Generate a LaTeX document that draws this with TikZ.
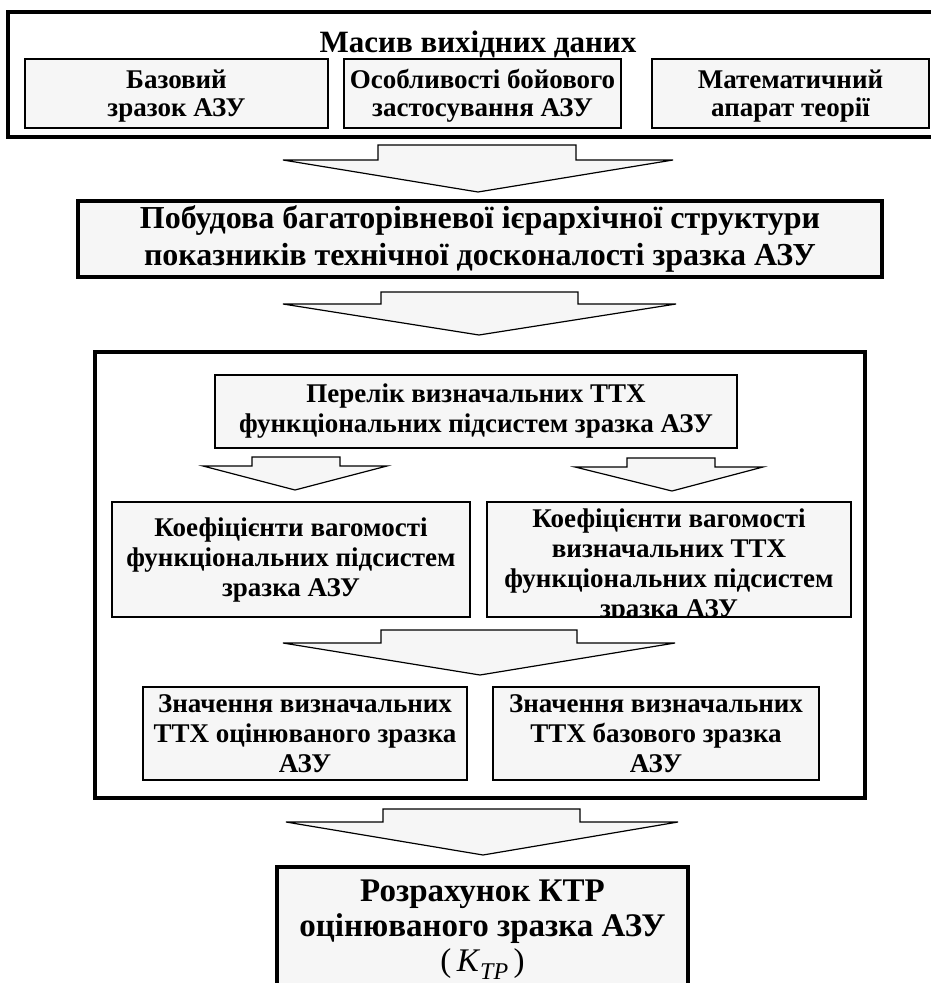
\documentclass[tikz,border=0pt]{standalone}
\usepackage{fontspec}
\setmainfont{Liberation Serif}
\begin{document}
\begin{tikzpicture}[x=1pt, y=-1pt, font=\bfseries]
  \definecolor{boxgray}{RGB}{246,246,246}
  \tikzset{
    box/.style={draw=black, line width=1.6pt, fill=boxgray, align=center, inner sep=0pt},
    bigbox/.style={draw=black, line width=4pt, align=center, inner sep=0pt},
    blockarrow/.style={draw=black, line width=1.2pt, fill=boxgray, line join=miter},
    hugetext/.style={font=\fontsize{32}{37}\selectfont\bfseries},
    midtext/.style={font=\fontsize{27}{30}\selectfont\bfseries},
    smalltext/.style={font=\fontsize{27}{28}\selectfont\bfseries}
  }
  \clip (0,0) rectangle (931,983);

  % Input data
  \node[bigbox, fill=white, minimum width=927pt, minimum height=125pt] (source) at (471.5,74.5) {};
  \node[font=\fontsize{31}{36}\selectfont\bfseries] (sourcetitle) at (478,44) {Масив вихідних даних};
  \node[box, minimum width=303pt, minimum height=69pt] (base) at (176.5,93.5) {};
  \node[box, minimum width=277pt, minimum height=69pt] (combat) at (482.5,93.5) {};
  \node[box, minimum width=277pt, minimum height=69pt] (theory) at (790.5,93.5) {};
  \node[smalltext, align=center] (basetext) at (176.5,96) {Базовий\\зразок АЗУ};
  \node[smalltext, align=center] (combattext) at (482.5,96) {Особливості бойового\\застосування АЗУ};
  \node[smalltext, align=center] (theorytext) at (790.5,96) {Математичний\\апарат теорії};

  \coordinate (tip1) at (478,192);
  \draw[blockarrow] (tip1) -- ++(-195,-32) -- ++(95,0) -- ++(0,-15) -- ++(198,0) -- ++(0,15) -- ++(97,0) -- cycle;

  % Hierarchy
  \node[bigbox, hugetext, fill=boxgray, minimum width=804pt, minimum height=76pt] (build) at (480,239)
    {Побудова багаторівневої ієрархічної структури\\показників технічної досконалості зразка АЗУ};

  \coordinate (tip2) at (479,335);
  \draw[blockarrow] (tip2) -- ++(-196,-31) -- ++(98,0) -- ++(0,-12) -- ++(197,0) -- ++(0,12) -- ++(98,0) -- cycle;

  % Weights and values
  \node[bigbox, fill=white, minimum width=770pt, minimum height=446pt] (calc) at (480,575) {};
  \node[box, midtext, minimum width=522pt, minimum height=73pt] (list) at (476,411.5)
    {Перелік визначальних ТТХ\\функціональних підсистем зразка АЗУ};

  \coordinate (tip3) at (295,490);
  \draw[blockarrow] (tip3) -- ++(-92,-24) -- ++(49,0) -- ++(0,-9) -- ++(88,0) -- ++(0,9) -- ++(47,0) -- cycle;
  \coordinate (tip4) at (672,491);
  \draw[blockarrow] (tip4) -- ++(-97,-24) -- ++(52,0) -- ++(0,-9) -- ++(88,0) -- ++(0,9) -- ++(48,0) -- cycle;

  \node[box, midtext, minimum width=358pt, minimum height=115pt] (wsub) at (291,559.5)
    {Коефіцієнти вагомості\\функціональних підсистем\\зразка АЗУ};
  \node[box, minimum width=364pt, minimum height=115pt] (wttx) at (669,559.5) {};
  \begin{scope}
    \clip (487,502) rectangle (851,617);
    \node[midtext, align=center] (wttxtext) at (669,566)
      {Коефіцієнти вагомості\\визначальних ТТХ\\функціональних підсистем\\зразка АЗУ};
  \end{scope}

  \coordinate (tip5) at (480,675);
  \draw[blockarrow] (tip5) -- ++(-197,-32) -- ++(98,0) -- ++(0,-13) -- ++(196,0) -- ++(0,13) -- ++(98,0) -- cycle;

  \node[box, midtext, minimum width=324pt, minimum height=93pt] (valeval) at (305,733.5)
    {Значення визначальних\\ТТХ оцінюваного зразка\\АЗУ};
  \node[box, midtext, minimum width=326pt, minimum height=93pt] (valbase) at (656,733.5)
    {Значення визначальних\\ТТХ базового зразка\\АЗУ};

  \coordinate (tip6) at (483,855);
  \draw[blockarrow] (tip6) -- ++(-197,-33) -- ++(97,0) -- ++(0,-13) -- ++(197,0) -- ++(0,13) -- ++(98,0) -- cycle;

  % Result
  \node[bigbox, fill=boxgray, font=\fontsize{33}{35}\selectfont\bfseries, minimum width=411pt, minimum height=126pt] (result) at (482.5,930)
    {Розрахунок КТР\\оцінюваного зразка АЗУ\\{\normalfont(\,\textit{K}\raisebox{-0.25em}{\fontsize{24}{24}\selectfont\textit{TP}}\,)}};
\end{tikzpicture}
\end{document}
